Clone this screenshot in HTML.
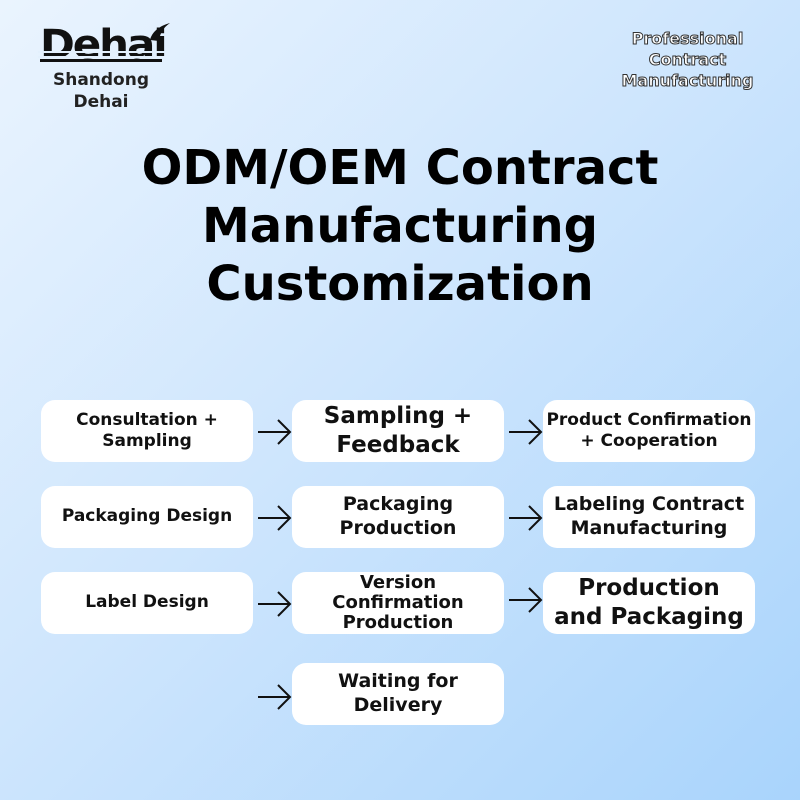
<!DOCTYPE html>
<html><head><meta charset="utf-8"><style>
body{margin:0;width:800px;height:800px;overflow:hidden;font-family:"DejaVu Sans","Liberation Sans",sans-serif;}
.bg{position:absolute;inset:0;background:linear-gradient(135deg,#eaf4fe 0%,#cfe6fd 45%,#a9d4fc 100%);}
.box{position:absolute;width:212px;height:62px;background:#fff;border-radius:14px;display:flex;align-items:center;justify-content:center;text-align:center;font-weight:bold;color:#111;line-height:1.25;}
</style></head><body>
<div class="bg"></div>
<div style="position:absolute;left:40px;top:22px;font:bold 40px 'DejaVu Sans',sans-serif;letter-spacing:-2px;color:#111;transform:scaleX(1.05);transform-origin:left;">Dehai</div>
<div style="position:absolute;left:40px;top:69px;width:122px;text-align:center;font:bold 17px 'DejaVu Sans',sans-serif;color:#222;line-height:22px;">Shandong<br>Dehai</div>
<div style="position:absolute;left:600px;top:28px;width:175px;text-align:center;font:bold 16px 'DejaVu Sans',sans-serif;color:#fff;line-height:21px;-webkit-text-stroke:1px #333;">Professional<br>Contract<br>Manufacturing</div>
<div style="position:absolute;left:0;top:139px;width:800px;text-align:center;font:bold 48px 'DejaVu Sans',sans-serif;color:#000;line-height:58px;">ODM/OEM Contract<br>Manufacturing<br>Customization</div>

<div class="box" style="left:41px;top:400px;font-size:17px;">Consultation +<br>Sampling</div>
<div class="box" style="left:292px;top:400px;font-size:23px;">Sampling +<br>Feedback</div>
<div class="box" style="left:543px;top:400px;font-size:17px;">Product Confirmation<br>+ Cooperation</div>
<div class="box" style="left:41px;top:486px;font-size:17px;">Packaging Design</div>
<div class="box" style="left:292px;top:486px;font-size:19px;">Packaging<br>Production</div>
<div class="box" style="left:543px;top:486px;font-size:19px;">Labeling Contract<br>Manufacturing</div>
<div class="box" style="left:41px;top:572px;font-size:17px;">Label Design</div>
<div class="box" style="left:292px;top:572px;font-size:18px;line-height:1.1;">Version<br>Confirmation<br>Production</div>
<div class="box" style="left:543px;top:572px;font-size:23px;line-height:1.28;">Production<br>and Packaging</div>
<div class="box" style="left:292px;top:663px;font-size:19px;">Waiting for<br>Delivery</div>

<svg width="800" height="800" style="position:absolute;left:0;top:0">
<g stroke="#111" stroke-width="2" fill="none">
<path d="M258 432h32M278 420l12 12-12 12"/>
<path d="M509 432h32M529 420l12 12-12 12"/>
<path d="M258 518h32M278 506l12 12-12 12"/>
<path d="M509 518h32M529 506l12 12-12 12"/>
<path d="M258 604h32M278 592l12 12-12 12"/>
<path d="M509 600h32M529 588l12 12-12 12"/>
<path d="M258 697h32M278 685l12 12-12 12"/>
</g>
<g fill="#e3f0fd"><rect x="38" y="51" width="130" height="2"/><rect x="38" y="56" width="130" height="2"/></g>
<g fill="#111"><rect x="40" y="59" width="122" height="3"/></g>
<path d="M150 40c2-8 9-14 20-17c-7 5-10 10-11 18z" fill="#111"/>
</svg>
</body></html>
